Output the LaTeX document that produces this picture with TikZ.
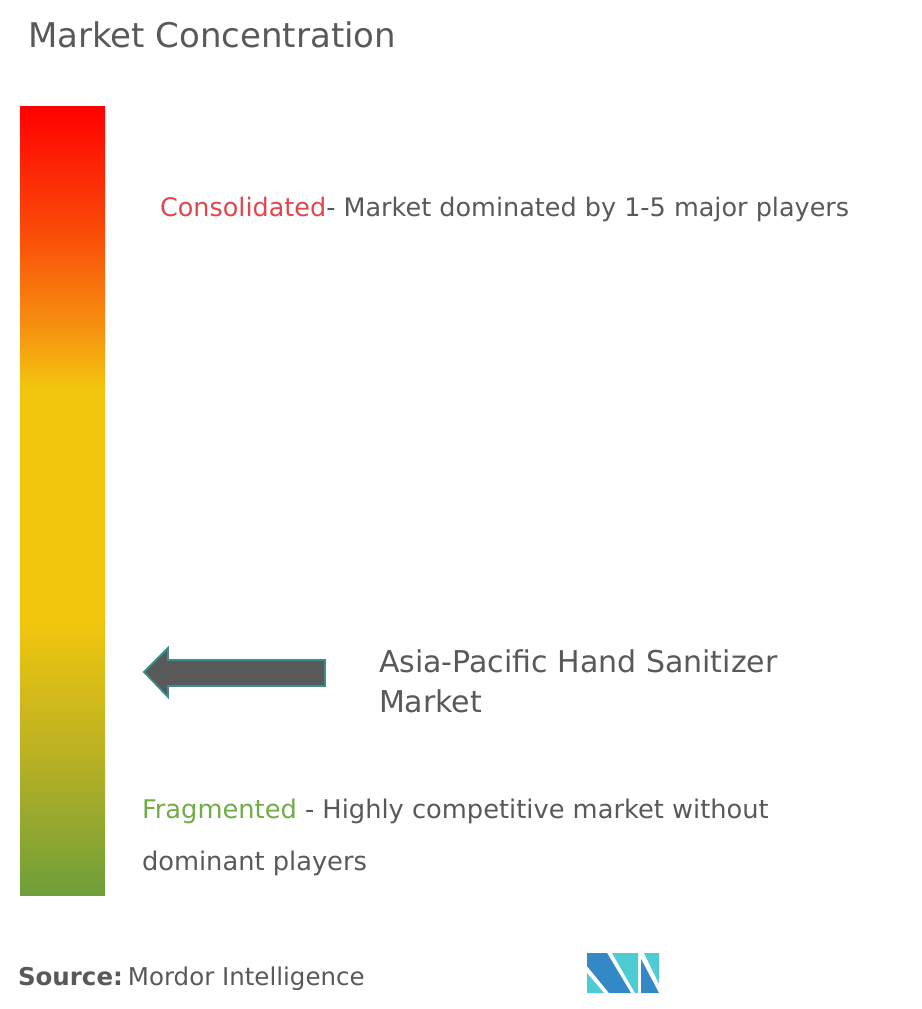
\documentclass[tikz,border=0pt]{standalone}
\usepackage{fontspec}
\setmainfont{DejaVu Sans}
\definecolor{txt}{HTML}{595959}
\definecolor{consred}{HTML}{E0474C}
\definecolor{fraggreen}{HTML}{70AD47}
\definecolor{arrowfill}{HTML}{595959}
\definecolor{arrowedge}{HTML}{3F8C8C}
\definecolor{logoblue}{HTML}{3388C6}
\definecolor{logoteal}{HTML}{4FCBD3}
\definecolor{gA}{HTML}{FF0000}
\definecolor{gB}{HTML}{FA4A08}
\definecolor{gC}{HTML}{F6930F}
\definecolor{gD}{HTML}{F2C60D}
\definecolor{gE}{HTML}{B8B024}
\definecolor{gF}{HTML}{6E9E3A}
\begin{document}
\begin{tikzpicture}[x=1pt,y=1pt,
  lbl/.style={anchor=base west,inner sep=0pt,outer sep=0pt,text=txt},
  logoA/.style={fill=logoblue,draw=none},
  logoB/.style={fill=logoteal,draw=none}]
\useasboundingbox[fill=white] (0,0) rectangle (921,-1009);
% gradient bar
\shade[top color=gA,bottom color=gB] (20,-106) rectangle (105,-230);
\shade[top color=gB,bottom color=gC] (20,-229.5) rectangle (105,-330);
\shade[top color=gC,bottom color=gD] (20,-329.5) rectangle (105,-390);
\fill[gD] (20,-389.5) rectangle (105,-620);
\shade[top color=gD,bottom color=gE] (20,-619.5) rectangle (105,-760);
\shade[top color=gE,bottom color=gF] (20,-759.5) rectangle (105,-895);
% texts
\node[lbl,font=\fontsize{34}{40}\selectfont] (title) at (28,-47) {Market Concentration};
\node[lbl,font=\fontsize{25.5}{30}\selectfont] (cons) at (160,-216) {\textcolor{consred}{Consolidated}- Market dominated by 1-5 major players};
\node[lbl,font=\fontsize{30}{36}\selectfont] (mk1) at (379,-672) {Asia-Pacific Hand Sanitizer};
\node[lbl,font=\fontsize{30}{36}\selectfont] (mk2) at (379,-712) {Market};
\node[lbl,font=\fontsize{25.7}{30}\selectfont] (frag1) at (142,-818) {\textcolor{fraggreen}{Fragmented} - Highly competitive market without};
\node[lbl,font=\fontsize{25.7}{30}\selectfont] (frag2) at (142,-870) {dominant players};
\node[lbl,font=\fontsize{24.5}{30}\selectfont] (src) at (18,-985) {\textbf{Source:}\hspace{5pt}Mordor Intelligence};
% arrow
\draw[fill=arrowfill,draw=arrowedge,line width=1.8pt,line join=miter]
  (144,-672) -- (168,-648) -- (168,-660) -- (325,-660) -- (325,-686) -- (168,-686) -- (168,-697) -- cycle;
% logo
\fill[logoA] (587,-953) -- (607,-953) -- (631,-993) -- (609,-993) -- (587,-966) -- cycle;
\fill[logoB] (587,-973) -- (587,-993) -- (604,-993) -- cycle;
\fill[logoB] (612,-953) -- (638,-953) -- (638,-993) -- (635,-993) -- cycle;
\fill[logoA] (641,-959) -- (659,-993) -- (641,-993) -- cycle;
\fill[logoB] (644,-953) -- (659,-953) -- (659,-984) -- cycle;
\end{tikzpicture}
\end{document}
